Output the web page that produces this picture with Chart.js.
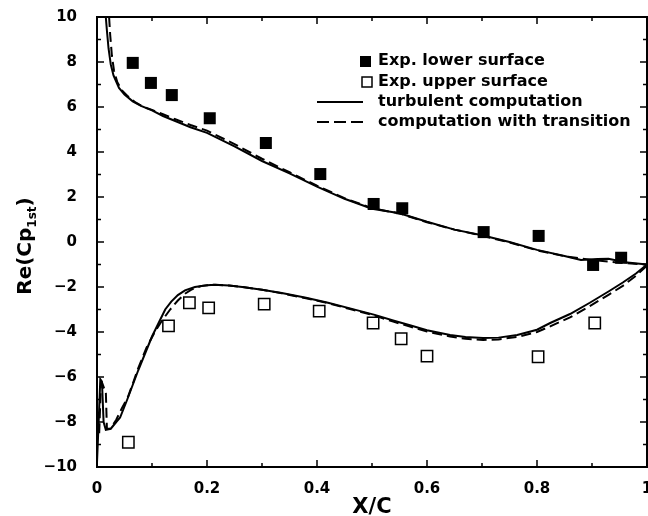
<!DOCTYPE html>
<html>
<head>
<meta charset="utf-8">
<script src="https://cdn.jsdelivr.net/npm/chart.js@4/dist/chart.umd.min.js"></script>
<style>
html,body{margin:0;padding:0;background:#fff;}
#wrap{width:648px;height:516px;}
</style>
</head>
<body>
<div id="wrap"><canvas id="c" width="648" height="516"></canvas></div>
<script>
// ---- data ----
const xLowerExp = [0.065, 0.098, 0.136, 0.205, 0.307, 0.406, 0.503, 0.555, 0.703, 0.803, 0.902, 0.953];
const yLowerExp = [7.96, 7.07, 6.53, 5.5, 4.4, 3.02, 1.69, 1.5, 0.44, 0.27, -1.02, -0.7];

const xUpperExp = [0.057, 0.13, 0.168, 0.203, 0.304, 0.404, 0.502, 0.553, 0.6, 0.802, 0.905];
const yUpperExp = [-8.9, -3.73, -2.7, -2.93, -2.76, -3.07, -3.6, -4.3, -5.07, -5.1, -3.6];

const xTurbLower = [0.016, 0.018, 0.021, 0.025, 0.03, 0.04, 0.05, 0.065, 0.08, 0.1, 0.12, 0.14, 0.17, 0.2, 0.25, 0.3, 0.35, 0.4, 0.45, 0.5, 0.55, 0.6, 0.65, 0.7, 0.75, 0.8, 0.85, 0.88, 0.91, 0.93, 0.96, 1.0];
const yTurbLower = [10, 9.4, 8.6, 7.9, 7.4, 6.85, 6.55, 6.25, 6.05, 5.85, 5.6, 5.4, 5.1, 4.85, 4.25, 3.6, 3.05, 2.46, 1.92, 1.48, 1.28, 0.9, 0.55, 0.3, 0.0, -0.35, -0.62, -0.8, -0.76, -0.75, -0.9, -1.0];

const xTransLower = [0.022, 0.024, 0.027, 0.031, 0.037, 0.045, 0.055, 0.07, 0.085, 0.1, 0.12, 0.14, 0.17, 0.2, 0.25, 0.3, 0.35, 0.4, 0.45, 0.5, 0.55, 0.6, 0.65, 0.7, 0.75, 0.8, 0.85, 0.9, 0.95, 1.0];
const yTransLower = [10, 9.2, 8.3, 7.6, 7.1, 6.75, 6.5, 6.2, 6.0, 5.87, 5.68, 5.48, 5.2, 4.95, 4.35, 3.7, 3.1, 2.5, 1.95, 1.5, 1.27, 0.88, 0.55, 0.28, -0.02, -0.37, -0.63, -0.8, -0.92, -1.0];

const xTurbUpper = [0.0, 0.003, 0.006, 0.009, 0.012, 0.016, 0.025, 0.035, 0.042, 0.055, 0.075, 0.09, 0.1, 0.112, 0.124, 0.135, 0.147, 0.16, 0.178, 0.2, 0.215, 0.24, 0.264, 0.3, 0.336, 0.38, 0.42, 0.46, 0.505, 0.54, 0.569, 0.6, 0.642, 0.67, 0.702, 0.73, 0.764, 0.8, 0.824, 0.86, 0.896, 0.93, 0.956, 0.98, 1.0];
const yTurbUpper = [-9.8, -8.0, -6.1, -6.2, -8.0, -8.35, -8.3, -8.0, -7.8, -7.0, -5.7, -4.8, -4.2, -3.6, -3.0, -2.65, -2.36, -2.15, -2.0, -1.92, -1.9, -1.93, -2.0, -2.12, -2.27, -2.48, -2.7, -2.95, -3.24, -3.5, -3.7, -3.92, -4.13, -4.22, -4.27, -4.25, -4.13, -3.9, -3.6, -3.2, -2.7, -2.2, -1.8, -1.4, -1.0];

const xTransUpper = [0.004, 0.007, 0.01, 0.013, 0.016, 0.018, 0.024, 0.035, 0.045, 0.056, 0.065, 0.075, 0.09, 0.105, 0.118, 0.133, 0.147, 0.16, 0.173, 0.19, 0.21, 0.24, 0.264, 0.3, 0.336, 0.38, 0.42, 0.46, 0.505, 0.54, 0.569, 0.6, 0.642, 0.67, 0.702, 0.73, 0.764, 0.8, 0.824, 0.86, 0.896, 0.93, 0.956, 0.98, 1.0];
const yTransUpper = [-8.5, -6.4, -6.3, -6.5, -6.6, -8.3, -8.3, -7.9, -7.4, -6.9, -6.3, -5.6, -4.7, -4.0, -3.5, -3.0, -2.6, -2.3, -2.1, -1.95, -1.9, -1.93, -2.0, -2.12, -2.28, -2.5, -2.72, -2.98, -3.27, -3.55, -3.76, -3.98, -4.2, -4.3, -4.35, -4.33, -4.22, -4.0, -3.75, -3.35, -2.85, -2.35, -1.95, -1.5, -1.05];

const xTickLabels = ['0', '0.2', '0.4', '0.6', '0.8', '1'];
const yTickLabels = ['\u221210', '\u22128', '\u22126', '\u22124', '\u22122', '0', '2', '4', '6', '8', '10'];
const legendLabels = ['Exp. lower surface', 'Exp. upper surface', 'turbulent computation', 'computation with transition'];
const xTitle = 'X/C';
const yTitleMain = 'Re(Cp';
const yTitleSub = '1st';
const yTitleEnd = ')';

// ---- helpers ----
const pts = (xs, ys) => xs.map((x, i) => ({x: x, y: ys[i]}));
const FONT = '"DejaVu Sans", sans-serif';

const lineStyle = (dashed) => ({
  type: 'line', showLine: true, pointRadius: 0, borderColor: '#000',
  borderWidth: 2, borderDash: dashed ? [10, 5] : [], fill: false, tension: 0
});

const frameAndDecor = {
  id: 'frameAndDecor',
  afterDatasetsDraw(chart) {
    const ctx = chart.ctx;
    const a = chart.chartArea;
    const xs = chart.scales.x, ys = chart.scales.y;
    ctx.save();
    ctx.strokeStyle = '#000';
    ctx.lineWidth = 2;
    ctx.setLineDash([]);
    ctx.strokeRect(a.left, a.top, a.right - a.left, a.bottom - a.top);
    // inward ticks on all four sides
    ctx.lineWidth = 1.5;
    ctx.beginPath();
    for (let i = 0; i <= 10; i++) {
      const v = i / 10;
      const px = xs.getPixelForValue(v);
      const len = (i % 2 === 0) ? 7 : 4;
      ctx.moveTo(px, a.bottom); ctx.lineTo(px, a.bottom - len);
      ctx.moveTo(px, a.top); ctx.lineTo(px, a.top + len);
    }
    for (let v = -10; v <= 10; v++) {
      const py = ys.getPixelForValue(v);
      const len = (v % 2 === 0) ? 7 : 4;
      ctx.moveTo(a.left, py); ctx.lineTo(a.left + len, py);
      ctx.moveTo(a.right, py); ctx.lineTo(a.right - len, py);
    }
    ctx.stroke();

    // legend
    const rows = [61, 82, 102, 122];
    const textX = 378;
    ctx.font = 'bold 16px ' + FONT;
    ctx.fillStyle = '#000';
    ctx.textBaseline = 'middle';
    ctx.textAlign = 'left';
    ctx.fillRect(360, rows[0] - 5, 11, 11);
    ctx.lineWidth = 1.5;
    ctx.strokeRect(362, rows[1] - 5, 10, 10);
    ctx.lineWidth = 2;
    ctx.beginPath(); ctx.moveTo(317, rows[2]); ctx.lineTo(363, rows[2]); ctx.stroke();
    ctx.setLineDash([12, 5]);
    ctx.beginPath(); ctx.moveTo(317, rows[3]); ctx.lineTo(363, rows[3]); ctx.stroke();
    ctx.setLineDash([]);
    legendLabels.forEach((t, i) => ctx.fillText(t, textX, rows[i]));

    // y axis title with subscript
    ctx.save();
    ctx.translate(31, 246);
    ctx.rotate(-Math.PI / 2);
    ctx.textBaseline = 'alphabetic';
    const fMain = 'bold 20px ' + FONT, fSub = 'bold 12px ' + FONT;
    ctx.font = fMain; const w1 = ctx.measureText(yTitleMain).width; const w3 = ctx.measureText(yTitleEnd).width;
    ctx.font = fSub; const w2 = ctx.measureText(yTitleSub).width;
    let x0 = -(w1 + w2 + w3) / 2;
    ctx.font = fMain; ctx.fillText(yTitleMain, x0, 0);
    ctx.font = fSub; ctx.fillText(yTitleSub, x0 + w1, 5);
    ctx.font = fMain; ctx.fillText(yTitleEnd, x0 + w1 + w2, 0);
    ctx.restore();

    // x axis title
    ctx.font = 'bold 21px ' + FONT;
    ctx.textAlign = 'center';
    ctx.textBaseline = 'alphabetic';
    ctx.fillText(xTitle, (a.left + a.right) / 2, 513);
    ctx.restore();
  }
};

new Chart(document.getElementById('c'), {
  type: 'scatter',
  data: {
    datasets: [
      Object.assign({label: legendLabels[2], data: pts(xTurbLower, yTurbLower)}, lineStyle(false)),
      Object.assign({label: legendLabels[2] + ' (upper)', data: pts(xTurbUpper, yTurbUpper)}, lineStyle(false)),
      Object.assign({label: legendLabels[3], data: pts(xTransLower, yTransLower)}, lineStyle(true)),
      Object.assign({label: legendLabels[3] + ' (upper)', data: pts(xTransUpper, yTransUpper)}, lineStyle(true)),
      {label: legendLabels[0], data: pts(xLowerExp, yLowerExp), pointStyle: 'rect', pointRadius: 8.5,
       backgroundColor: '#000', borderColor: '#000', borderWidth: 0, showLine: false},
      {label: legendLabels[1], data: pts(xUpperExp, yUpperExp), pointStyle: 'rect', pointRadius: 8,
       backgroundColor: '#fff', borderColor: '#000', borderWidth: 1.5, showLine: false}
    ]
  },
  options: {
    responsive: false,
    animation: false,
    layout: {autoPadding: false, padding: {left: 0, right: 1, top: 17, bottom: 0}},
    plugins: {legend: {display: false}, tooltip: {enabled: false}},
    scales: {
      x: {
        type: 'linear', min: 0, max: 1,
        grid: {display: false}, border: {display: false},
        ticks: {stepSize: 0.2, color: '#000', padding: 5, maxRotation: 0,
          font: {family: FONT, size: 15, weight: 'bold'},
          callback: (v, i) => xTickLabels[i]},
        afterFit(s) { s.height = 49; s.paddingLeft = 0; s.paddingRight = 0; }
      },
      y: {
        type: 'linear', min: -10, max: 10,
        grid: {display: false}, border: {display: false},
        ticks: {stepSize: 2, color: '#000', padding: 12,
          font: {family: FONT, size: 15, weight: 'bold'},
          callback: (v, i) => yTickLabels[i]},
        afterFit(s) { s.width = 97; s.paddingTop = 0; s.paddingBottom = 0; }
      }
    }
  },
  plugins: [frameAndDecor]
});
</script>
</body>
</html>
